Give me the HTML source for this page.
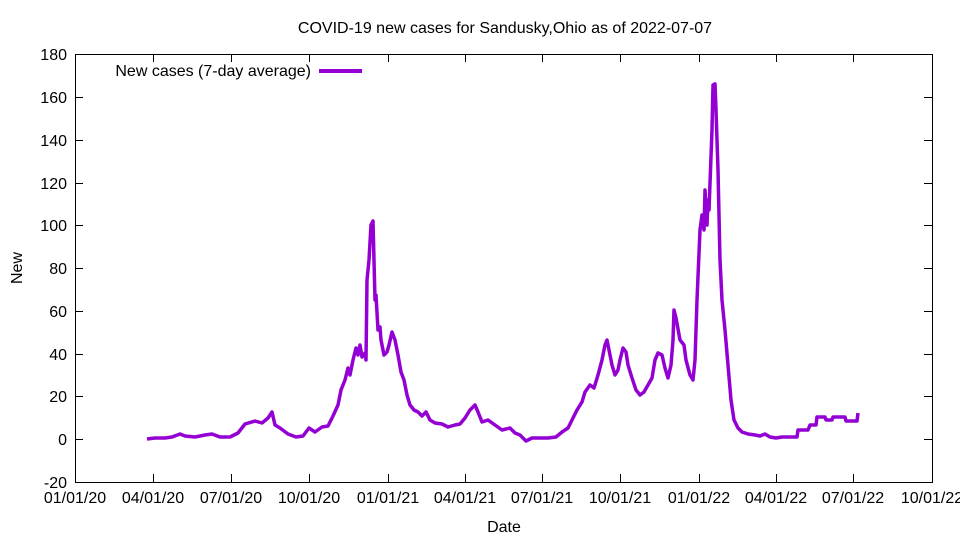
<!DOCTYPE html>
<html><head><style>body{margin:0;background:#fff}svg{display:block}text{font-family:"Liberation Sans",sans-serif;font-size:16px;fill:#000}</style></head><body>
<svg width="960" height="540" viewBox="0 0 960 540">
<rect x="75.5" y="54.5" width="857" height="428" fill="none" stroke="#000" stroke-width="1"/>
<g stroke="#000" stroke-width="1">
<path d="M75 54.5h8M932 54.5h-8M75 97.5h8M932 97.5h-8M75 140.5h8M932 140.5h-8M75 183.5h8M932 183.5h-8M75 225.5h8M932 225.5h-8M75 268.5h8M932 268.5h-8M75 311.5h8M932 311.5h-8M75 354.5h8M932 354.5h-8M75 396.5h8M932 396.5h-8M75 439.5h8M932 439.5h-8"/>
<path d="M75.5 482v-8M153.5 482v-8M231.5 482v-8M309.5 482v-8M388.5 482v-8M465.5 482v-8M542.5 482v-8M620.5 482v-8M699.5 482v-8M776.5 482v-8M853.5 482v-8M75.5 54v8M153.5 54v8M231.5 54v8M309.5 54v8M388.5 54v8M465.5 54v8M542.5 54v8M620.5 54v8M699.5 54v8M776.5 54v8M853.5 54v8"/>
</g>
<g text-anchor="end">
<text x="67" y="60">180</text><text x="67" y="103">160</text><text x="67" y="146">140</text><text x="67" y="189">120</text><text x="67" y="231">100</text><text x="67" y="274">80</text><text x="67" y="317">60</text><text x="67" y="360">40</text><text x="67" y="402">20</text><text x="67" y="445">0</text><text x="67" y="488">-20</text>
</g>
<g text-anchor="middle">
<text x="75" y="503">01/01/20</text><text x="153" y="503">04/01/20</text><text x="231" y="503">07/01/20</text><text x="309" y="503">10/01/20</text><text x="388" y="503">01/01/21</text><text x="465" y="503">04/01/21</text><text x="542" y="503">07/01/21</text><text x="620" y="503">10/01/21</text><text x="699" y="503">01/01/22</text><text x="776" y="503">04/01/22</text><text x="853" y="503">07/01/22</text><text x="932" y="503">10/01/22</text>
<text x="504" y="532">Date</text>
<text x="505" y="33">COVID-19 new cases for Sandusky,Ohio as of 2022-07-07</text>
</g>
<text x="22" y="268" text-anchor="middle" transform="rotate(-90 22 268)">New</text>
<text x="311" y="76" text-anchor="end">New cases (7-day average)</text>
<path d="M319 71h43" stroke="#9400d3" stroke-width="4"/>
<polyline fill="none" stroke="#9400d3" stroke-width="3.5" stroke-linejoin="round" points="147,439 155,438 165,438 172,437 180,434 185,436 195,437 205,435 212,434 220,437 230,437 238,433 245,424 255,421 262,423 268,418 272,412 275,425 280,428 288,434 296,437 303,436 309,428 315,432 322,427 328,426 333,416 338,405 341,390 345,380 348,368 350,375 353,360 356,348 358,355 360,345 362,357 365,353 366,360 367,280 369,260 371,225 373,221 375,300 376,295 378,330 380,327 381,340 384,355 387,352 389,345 392,332 395,340 398,355 401,372 404,380 407,395 410,405 414,410 418,412 422,416 426,412 430,420 435,423 442,424 448,427 455,425 460,424 465,418 470,410 475,405 478,412 482,422 488,420 495,425 502,430 510,428 515,433 520,435 526,441 532,438 540,438 548,438 556,437 562,432 568,428 572,420 577,410 582,402 585,392 590,385 594,388 598,375 602,360 605,345 607,340 609,350 612,365 615,375 618,370 620,360 623,348 626,352 628,365 632,378 636,390 640,395 644,392 648,385 652,378 655,360 658,353 662,355 665,368 668,378 671,365 673,340 674,310 676,318 680,340 684,345 686,360 690,375 693,380 695,360 697,300 700,230 702,215 704,230 705,190 707,225 708,200 709,210 712,130 713,85 715,84 716,110 718,170 720,260 722,300 725,330 728,365 731,400 734,420 738,428 742,432 748,434 755,435 760,436 765,434 770,437 776,438 782,437 790,437 797,437 798,430 808,430 810,425 816,425 817,417 825,417 826,420 832,420 833,417 845,417 846,421 857,421 858,413"/>
</svg>
</body></html>
